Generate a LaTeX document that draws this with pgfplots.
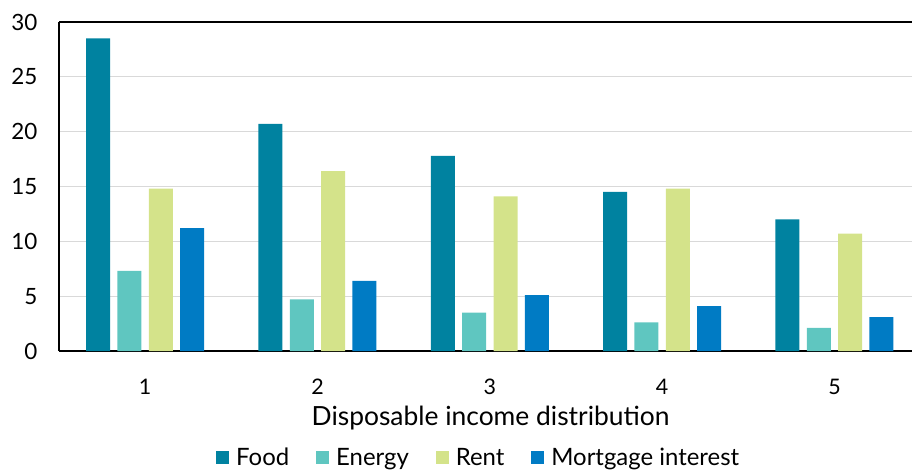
\documentclass[border=0pt]{standalone}
\usepackage{pgfplots}
\pgfplotsset{compat=1.18}
\usepackage{fontspec}
\setmainfont{Lato}
\definecolor{cfood}{RGB}{0,130,160}
\definecolor{cenergy}{RGB}{95,198,192}
\definecolor{crent}{RGB}{212,227,138}
\definecolor{cmort}{RGB}{0,123,196}
\begin{document}
\begin{tikzpicture}
\path[use as bounding box] (-59bp,-119bp) rectangle (853bp,351bp);
\begin{axis}[
  at={(0,0)}, anchor=origin,
  scale only axis, width=853bp, height=329bp,
  ybar, bar width=24bp,
  ymin=0, ymax=30, ytick={0,5,...,30},
  xmin=0.5, xmax=5.45, xtick={1,2,3,4,5},
  axis x line*=bottom, axis y line*=left,
  axis line style={black, line width=1.2pt},
  major tick length=0pt,
  ymajorgrids, grid style={gray!30, line width=0.8pt},
  /pgf/number format/assume math mode=true,
  yticklabel style={font=\fontsize{22.5}{26}\selectfont, xshift=-18bp},
  xticklabel style={font=\fontsize{21.5}{25}\selectfont, anchor=base, yshift=-43bp},
  xlabel={Disposable income distribution},
  xlabel style={font=\fontsize{26.5}{30}\selectfont, at={(rel axis cs:0.506,0)}, anchor=base, yshift=-74bp},
  legend style={at={(0.492,-0.325)}, anchor=center, draw=none, font=\fontsize{24}{28}\selectfont, legend columns=-1, /tikz/every odd column/.append style={column sep=5bp}, /tikz/every even column/.append style={column sep=25bp}},
  legend image code/.code={\draw[#1, draw=none] (0bp,-6.5bp) rectangle (13bp,6.5bp);},
  enlarge y limits=false,
  clip=false,
  ]
\addplot[fill=cfood, draw=none, bar shift=-47bp] coordinates {(1,28.5) (2,20.7) (3,17.8) (4,14.5) (5,12.0)};
\addplot[fill=cenergy, draw=none, bar shift=-15.7bp] coordinates {(1,7.3) (2,4.7) (3,3.5) (4,2.6) (5,2.1)};
\addplot[fill=crent, draw=none, bar shift=15.7bp] coordinates {(1,14.8) (2,16.4) (3,14.1) (4,14.8) (5,10.7)};
\addplot[fill=cmort, draw=none, bar shift=47bp] coordinates {(1,11.2) (2,6.4) (3,5.1) (4,4.1) (5,3.1)};
\legend{Food, Energy, Rent, Mortgage interest}
\draw[black, line width=1.2pt] (rel axis cs:0,1) -- (rel axis cs:1,1);
\end{axis}
\end{tikzpicture}
\end{document}
